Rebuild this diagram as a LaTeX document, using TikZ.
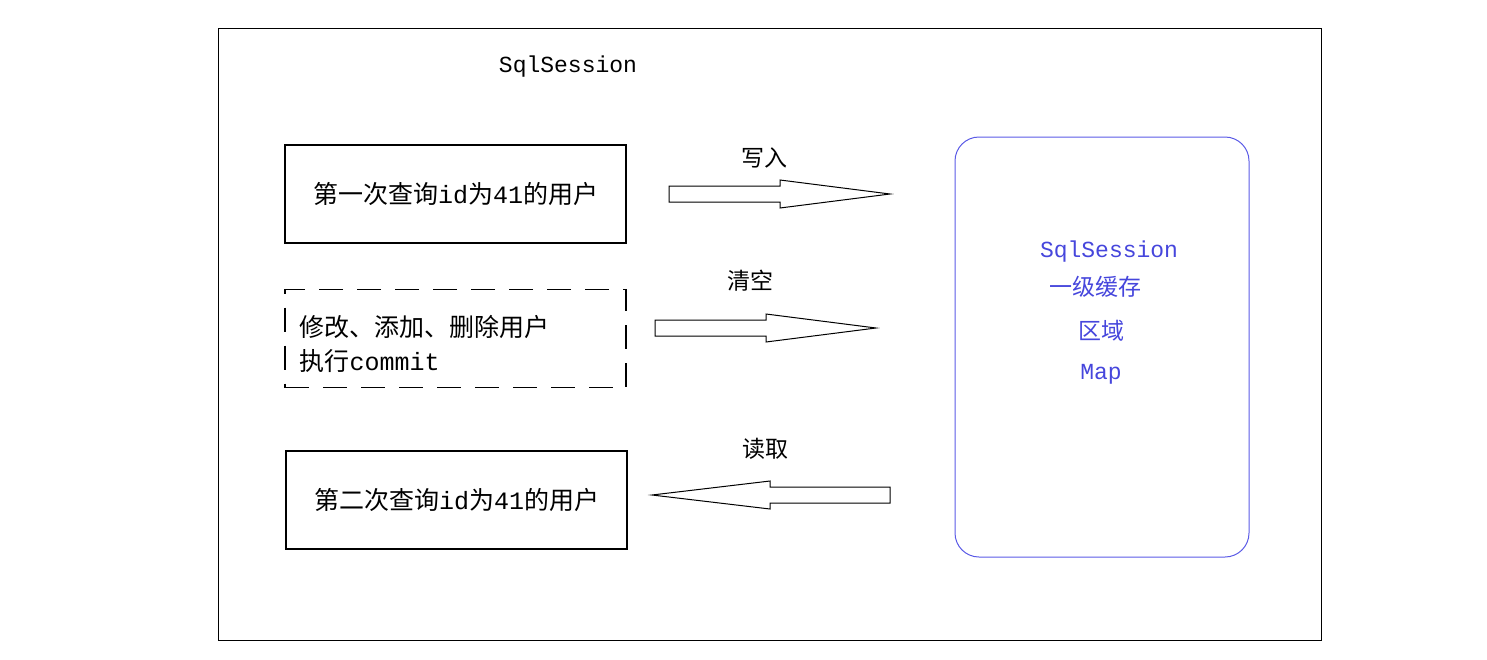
\documentclass[tikz,border=0pt]{standalone}
\usepackage{fontspec}
\setmainfont{Liberation Mono}
\newfontfamily\zhf{Noto Sans CJK SC}
\newcommand{\zh}[1]{{\zhf #1}}
\begin{document}
\begin{tikzpicture}[x=1pt,y=-1pt,
  box/.style={draw,line width=1.1pt,minimum width=341pt,minimum height=98pt,font=\fontsize{25}{34}\selectfont},
  lbl/.style={font=\fontsize{23}{26}\selectfont},
  blu/.style={font=\fontsize{23}{26}\selectfont,text={rgb,255:red,70;green,70;blue,220}},
  harrow/.style={draw,line width=1pt,fill=white}]
\useasboundingbox (0,0) rectangle (1487,659);
\draw[line width=1pt] (218,28) rectangle (1321,640);
\node[lbl] (title) at (568,67) {SqlSession};
\node[box] (q1) at (455.5,194) {\zh{第一次查询}id\zh{为}41\zh{的用户}};
\node[box,line width=1.3pt,dash pattern=on 24pt off 14pt] (upd) at (455.5,338.5) {};
\node[font=\fontsize{25}{34}\selectfont,align=left,anchor=west] (updt) at (296,344) {\zh{修改、添加、删除用户}\\\zh{执行}commit};
\node[box] (q2) at (456.5,500) {\zh{第二次查询}id\zh{为}41\zh{的用户}};
\node[draw={rgb,255:red,90;green,90;blue,230},line width=1pt,rounded corners=24pt,minimum width=294pt,minimum height=420pt] (cache) at (1102,347) {};
\node[blu] (c1) at (1109,252) {SqlSession};
\node[blu] (c2) at (1095,287) {\zh{一级缓存}};
\node[blu] (c3) at (1101,331) {\zh{区域}};
\node[blu] (c4) at (1101,374) {Map};
\node[lbl] (w) at (764,158) {\zh{写入}};
\node[lbl] (c) at (750,281) {\zh{清空}};
\node[lbl] (r) at (765,449) {\zh{读取}};
\draw[harrow] (669,186) -- (780,186) -- (780,180) -- (890,194) -- (780,208) -- (780,202) -- (669,202) -- cycle;
\draw[harrow] (655,320) -- (766,320) -- (766,314) -- (876,328) -- (766,342) -- (766,336) -- (655,336) -- cycle;
\draw[harrow] (890,487) -- (770,487) -- (770,481) -- (652,495) -- (770,509) -- (770,503) -- (890,503) -- cycle;
\end{tikzpicture}
\end{document}
